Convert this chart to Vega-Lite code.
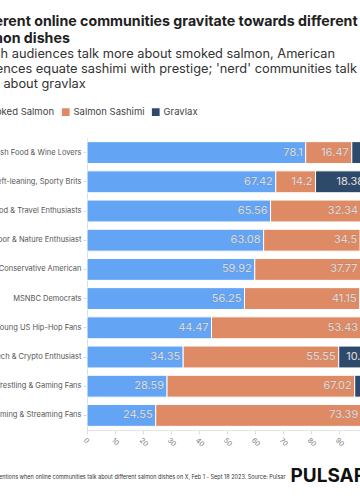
{
  "$schema": "https://vega.github.io/schema/vega-lite/v6.json",
  "width": 273,
  "height": 292,
  "autosize": "none",
  "padding": {"left": 87, "top": 138, "right": 0, "bottom": 70},
  "background": "white",
  "config": {"font": "Inter", "view": {"stroke": null}},
  "title": {
    "text": ["Different online communities gravitate towards different", "salmon dishes"],
    "subtitle": ["British audiences talk more about smoked salmon, American", "audiences equate sashimi with prestige; 'nerd' communities talk", "most about gravlax"],
    "anchor": "start",
    "frame": "group",
    "dx": -117,
    "offset": 16,
    "fontSize": 14.2,
    "fontWeight": "bold",
    "color": "#222",
    "lineHeight": 17,
    "subtitleFontSize": 12.8,
    "subtitleColor": "#333",
    "subtitleLineHeight": 15,
    "subtitlePadding": 2
  },
  "data": {
    "values": [
      {"group": "British Food & Wine Lovers", "dish": "Smoked Salmon", "value": 78.1},
      {"group": "British Food & Wine Lovers", "dish": "Salmon Sashimi", "value": 16.47},
      {"group": "British Food & Wine Lovers", "dish": "Gravlax", "value": 5.43},
      {"group": "Left-leaning, Sporty Brits", "dish": "Smoked Salmon", "value": 67.42},
      {"group": "Left-leaning, Sporty Brits", "dish": "Salmon Sashimi", "value": 14.2},
      {"group": "Left-leaning, Sporty Brits", "dish": "Gravlax", "value": 18.38},
      {"group": "Food & Travel Enthusiasts", "dish": "Smoked Salmon", "value": 65.56},
      {"group": "Food & Travel Enthusiasts", "dish": "Salmon Sashimi", "value": 32.34},
      {"group": "Food & Travel Enthusiasts", "dish": "Gravlax", "value": 2.1},
      {"group": "Outdoor & Nature Enthusiast", "dish": "Smoked Salmon", "value": 63.08},
      {"group": "Outdoor & Nature Enthusiast", "dish": "Salmon Sashimi", "value": 34.5},
      {"group": "Outdoor & Nature Enthusiast", "dish": "Gravlax", "value": 2.42},
      {"group": "Conservative American", "dish": "Smoked Salmon", "value": 59.92},
      {"group": "Conservative American", "dish": "Salmon Sashimi", "value": 37.77},
      {"group": "Conservative American", "dish": "Gravlax", "value": 2.31},
      {"group": "MSNBC Democrats", "dish": "Smoked Salmon", "value": 56.25},
      {"group": "MSNBC Democrats", "dish": "Salmon Sashimi", "value": 41.15},
      {"group": "MSNBC Democrats", "dish": "Gravlax", "value": 2.6},
      {"group": "Young US Hip-Hop Fans", "dish": "Smoked Salmon", "value": 44.47},
      {"group": "Young US Hip-Hop Fans", "dish": "Salmon Sashimi", "value": 53.43},
      {"group": "Young US Hip-Hop Fans", "dish": "Gravlax", "value": 2.1},
      {"group": "Tech & Crypto Enthusiast", "dish": "Smoked Salmon", "value": 34.35},
      {"group": "Tech & Crypto Enthusiast", "dish": "Salmon Sashimi", "value": 55.55},
      {"group": "Tech & Crypto Enthusiast", "dish": "Gravlax", "value": 10.1},
      {"group": "Wrestling & Gaming Fans", "dish": "Smoked Salmon", "value": 28.59},
      {"group": "Wrestling & Gaming Fans", "dish": "Salmon Sashimi", "value": 67.02},
      {"group": "Wrestling & Gaming Fans", "dish": "Gravlax", "value": 4.39},
      {"group": "Gaming & Streaming Fans", "dish": "Smoked Salmon", "value": 24.55},
      {"group": "Gaming & Streaming Fans", "dish": "Salmon Sashimi", "value": 73.39},
      {"group": "Gaming & Streaming Fans", "dish": "Gravlax", "value": 2.06}
    ]
  },
  "encoding": {
    "y": {
      "field": "group",
      "type": "nominal",
      "sort": null,
      "scale": {"paddingInner": 0.25, "paddingOuter": 0.125},
      "axis": {
        "title": "PULSAR",
        "titleAngle": 0,
        "titleX": 203,
        "titleY": 337,
        "titleAlign": "left",
        "titleBaseline": "middle",
        "titleFontSize": 19,
        "titleFontWeight": "bold",
        "titleColor": "#111",
        "labelFontSize": 7.5,
        "labelColor": "#555",
        "labelPadding": 2,
        "tickSize": 4,
        "tickColor": "#ddd",
        "domainColor": "#ddd",
        "labelLimit": 300
      }
    },
    "x": {
      "field": "value",
      "type": "quantitative",
      "stack": "zero",
      "scale": {"domain": [0, 100], "range": [0, 280], "nice": false},
      "axis": {
        "values": [0, 10, 20, 30, 40, 50, 60, 70, 80, 90, 100],
        "grid": false,
        "labelAngle": 45,
        "labelFontSize": 7,
        "labelColor": "#777",
        "tickSize": 4,
        "tickColor": "#ddd",
        "domainColor": "#e6e6e6",
        "title": "Share of mentions when online communities talk about different salmon dishes on X, Feb 1 - Sept 18 2023. Source: Pulsar",
        "titleX": 198,
        "titleY": 46,
        "titleAlign": "right",
        "titleBaseline": "middle",
        "titleFontSize": 5.5,
        "titleFontWeight": "normal",
        "titleColor": "#333"
      }
    },
    "order": {"field": "dish", "sort": "descending"}
  },
  "layer": [
    {
      "mark": {"type": "bar", "stroke": "white", "strokeWidth": 1},
      "encoding": {
        "color": {
          "field": "dish",
          "type": "nominal",
          "sort": ["Smoked Salmon", "Salmon Sashimi", "Gravlax"],
          "scale": {"domain": ["Smoked Salmon", "Salmon Sashimi", "Gravlax"], "range": ["#63a4f4", "#de8a65", "#2e4a6b"]},
          "legend": {
            "title": null,
            "orient": "none",
            "direction": "horizontal",
            "legendX": -118,
            "legendY": -31,
            "labelFontSize": 9.5,
            "labelColor": "#444",
            "symbolType": "square",
            "symbolSize": 60,
            "symbolStrokeWidth": 0,
            "columnPadding": 6,
            "labelOffset": 3
          }
        }
      }
    },
    {
      "transform": [{"filter": "datum.value >= 8"}],
      "mark": {"type": "text", "align": "right", "baseline": "middle", "dx": -3, "fontSize": 11, "fill": "white", "stroke": "#333", "strokeOpacity": 0.25, "strokeWidth": 0.6},
      "encoding": {
        "text": {"field": "value", "type": "quantitative"},
        "detail": {"field": "dish"}
      }
    }
  ]
}
